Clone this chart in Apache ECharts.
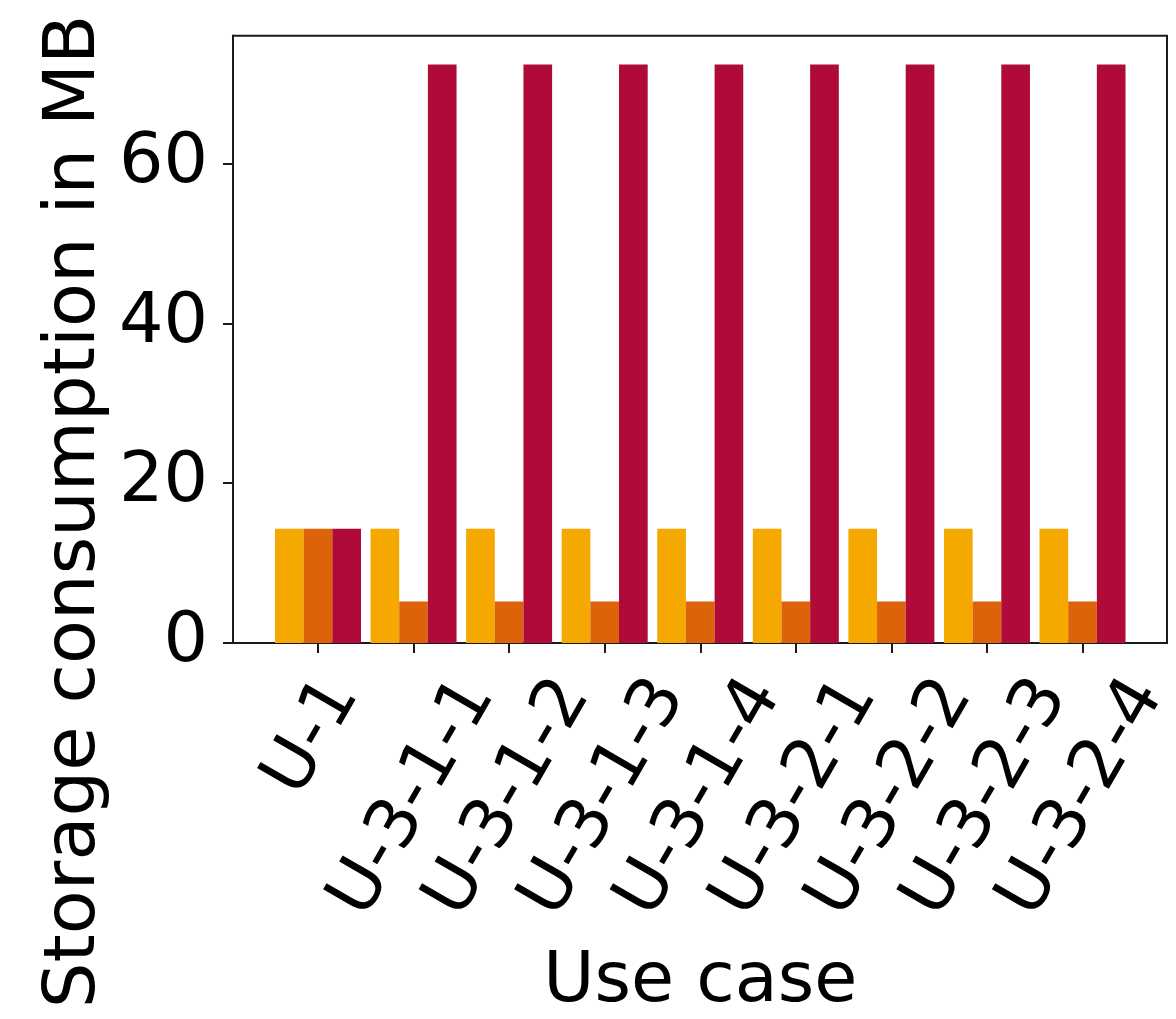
<!DOCTYPE html>
<html>
<head>
<meta charset="utf-8">
<script src="https://cdn.jsdelivr.net/npm/echarts@6/dist/echarts.min.js"></script>
<style>
html, body { margin: 0; padding: 0; background: #fff; }
#chart { width: 1176px; height: 1019px; }
</style>
</head>
<body>
<div id="chart"></div>
<script>
const categories = ['U-1', 'U-3-1-1', 'U-3-1-2', 'U-3-1-3', 'U-3-1-4', 'U-3-2-1', 'U-3-2-2', 'U-3-2-3', 'U-3-2-4'];
const seriesA = [14.3, 14.3, 14.3, 14.3, 14.3, 14.3, 14.3, 14.3, 14.3];
const seriesB = [14.3, 5.2, 5.2, 5.2, 5.2, 5.2, 5.2, 5.2, 5.2];
const seriesC = [14.3, 72.4, 72.4, 72.4, 72.4, 72.4, 72.4, 72.4, 72.4];
const yTicks = [0, 20, 40, 60];
const yMax = 76;

const FONT = 'DejaVu Sans';
const chart = echarts.init(document.getElementById('chart'), null, { renderer: 'canvas' });

// matplotlib centres rotated labels on their tick and aligns their tops;
// the short first label needs extra padding to mimic that
const catData = categories.map(function (c) {
  if (c.length < 5) {
    return { value: c, textStyle: { align: 'center', verticalAlign: 'bottom', padding: [0, 0, 0, 100] } };
  }
  return c;
});

const option = {
  animation: false,
  backgroundColor: '#ffffff',
  grid: [
    { // bars grid
      left: 270.2, right: 45.7, top: 35.7, bottom: 376,
      outerBoundsMode: 'none', containLabel: false
    },
    { // frame grid
      left: 233, right: 9, top: 35.7, bottom: 376,
      show: true, borderColor: '#1a1a1a', borderWidth: 2, backgroundColor: 'transparent',
      outerBoundsMode: 'none', containLabel: false
    }
  ],
  xAxis: [
    {
      type: 'category', gridIndex: 0, data: catData,
      boundaryGap: true,
      axisLine: { show: false },
      axisTick: { show: true, alignWithLabel: true, length: 10, lineStyle: { color: '#1a1a1a', width: 2 } },
      axisLabel: {
        interval: 0, rotate: 60, margin: 155,
        align: 'center', verticalAlign: 'middle',
        fontFamily: FONT, fontSize: 70, color: '#000'
      },
      splitLine: { show: false },
      name: 'Use case', nameLocation: 'middle', nameGap: 305,
      nameMoveOverlap: false,
      nameTextStyle: { fontFamily: FONT, fontSize: 70, color: '#000' }
    },
    {
      type: 'value', gridIndex: 1, min: 0, max: 1,
      show: false
    }
  ],
  yAxis: [
    {
      type: 'value', gridIndex: 0, min: 0, max: yMax, show: false
    },
    {
      type: 'value', gridIndex: 1, min: 0, max: yMax, interval: 20,
      axisLine: { show: true, lineStyle: { color: '#1a1a1a', width: 2 } },
      axisTick: { show: true, length: 10, lineStyle: { color: '#1a1a1a', width: 2 }, customValues: yTicks },
      axisLabel: { margin: 25, fontFamily: FONT, fontSize: 70, color: '#000', customValues: yTicks },
      splitLine: { show: false },
      name: 'Storage consumption in MB', nameLocation: 'middle', nameRotate: 90, nameGap: 122,
      nameMoveOverlap: false,
      nameTextStyle: { fontFamily: FONT, fontSize: 72, color: '#000', padding: [0, 344, 0, 0] }
    }
  ],
  series: [
    { name: 'A', type: 'bar', xAxisIndex: 0, yAxisIndex: 0, data: seriesA, barGap: '0%', barCategoryGap: '10%', itemStyle: { color: '#f5a800' } },
    { name: 'B', type: 'bar', xAxisIndex: 0, yAxisIndex: 0, data: seriesB, barGap: '0%', barCategoryGap: '10%', itemStyle: { color: '#dc6309' } },
    { name: 'C', type: 'bar', xAxisIndex: 0, yAxisIndex: 0, data: seriesC, barGap: '0%', barCategoryGap: '10%', itemStyle: { color: '#b00a38' } }
  ]
};
chart.setOption(option);
</script>
</body>
</html>
